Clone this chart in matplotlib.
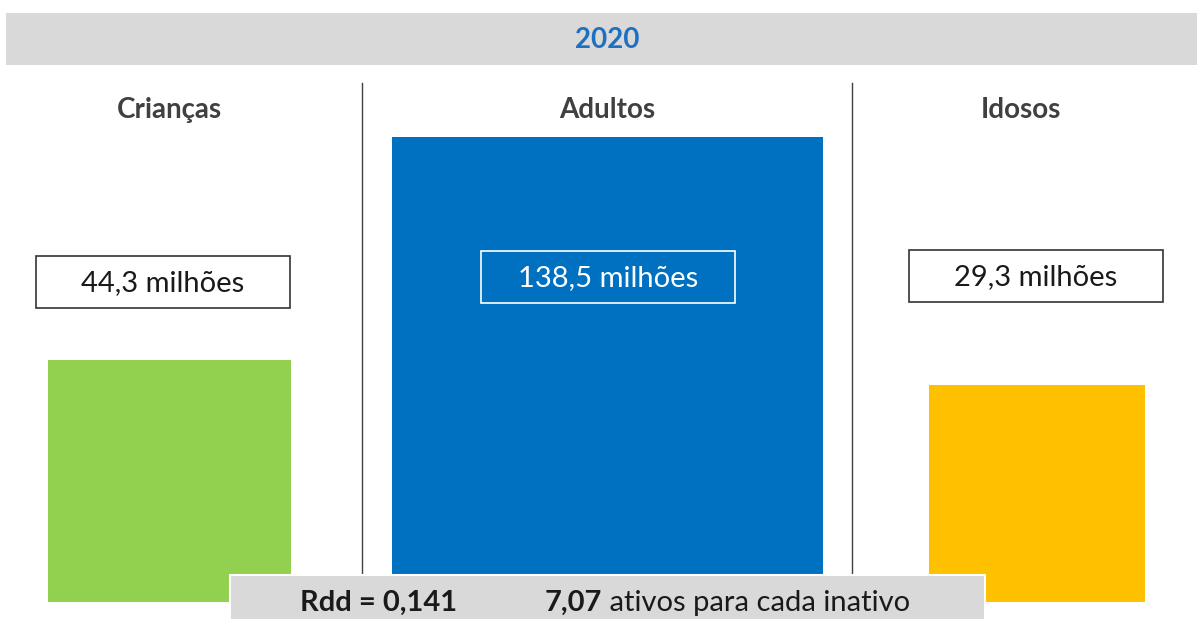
import matplotlib
matplotlib.use("Agg")
import matplotlib.pyplot as plt
from matplotlib.patches import Rectangle

plt.rcParams['font.family'] = ['Lato', 'DejaVu Sans']

year = "2020"
categories = ["Crianças", "Adultos", "Idosos"]
values = [44.3, 138.5, 29.3]
value_labels = ["44,3 milhões", "138,5 milhões", "29,3 milhões"]
rdd_label = "Rdd = 0,141"
ratio_value = "7,07"
ratio_text = " ativos para cada inativo"

W, H = 1197, 619
colors = ["#92d050", "#0070c0", "#ffc000"]
# bar extents in pixels (left, right, top), common baseline
bar_px = [(48, 291, 360), (392, 823, 137), (929, 1145, 385)]
base_px = 602
label_boxes = [(36, 290, 256, 308), (481, 735, 251, 303), (909, 1163, 250, 302)]
cat_x = [169, 607, 1021]

fig = plt.figure(figsize=(W / 100, H / 100), dpi=100)
fig.patch.set_facecolor("white")

for i, (v, c) in enumerate(zip(values, colors)):
    l, r, t = bar_px[i]
    ax = fig.add_axes([l / W, 1 - base_px / H, (r - l) / W, (base_px - t) / H])
    ax.bar([0], [v], width=1, align='edge', color=c)
    ax.set_xlim(0, 1)
    ax.set_ylim(0, v)
    ax.axis('off')

ov = fig.add_axes([0, 0, 1, 1], zorder=10)
ov.set_xlim(0, W)
ov.set_ylim(H, 0)
ov.axis('off')
ov.patch.set_alpha(0)

# header band
ov.add_patch(Rectangle((6, 13), W - 6, 52, facecolor="#d9d9d9", edgecolor="none"))
ov.text(W / 2 + 9, 40, year, ha='center', va='center', fontsize=20,
        fontweight='bold', color="#1f70c1")

# separators
for x in (362, 852):
    ov.plot([x, x], [83, 600], color="#404040", lw=1.0, zorder=2)

for i, cat in enumerate(categories):
    ov.text(cat_x[i], 110, cat, ha='center', va='center', fontsize=20,
            fontweight='bold', color="#404040")
    l, r, t, b = label_boxes[i]
    on_bar = i == 1
    ov.add_patch(Rectangle((l, t), r - l, b - t,
                           facecolor="none" if on_bar else "white",
                           edgecolor="white" if on_bar else "#333333", lw=1.2))
    ov.text((l + r) / 2, (t + b) / 2 + 1, value_labels[i], ha='center', va='center',
            fontsize=21, color="white" if on_bar else "#1a1a1a")

# bottom box
ov.add_patch(Rectangle((230, 575), 755, 50, facecolor="#d9d9d9",
                       edgecolor="white", lw=1.5, zorder=5))
ov.text(300, 603, rdd_label, ha='left', va='center', fontsize=21,
        fontweight='bold', color="#1a1a1a", zorder=6)
t1 = ov.text(545, 603, ratio_value, ha='left', va='center', fontsize=21,
             fontweight='bold', color="#1a1a1a", zorder=6)
fig.canvas.draw()
bb = t1.get_window_extent()
x_end = ov.transData.inverted().transform((bb.x1, bb.y0))[0]
ov.text(x_end, 603, ratio_text, ha='left', va='center', fontsize=21,
        color="#1a1a1a", zorder=6)

fig.savefig("out.png", dpi=100, facecolor="white")
